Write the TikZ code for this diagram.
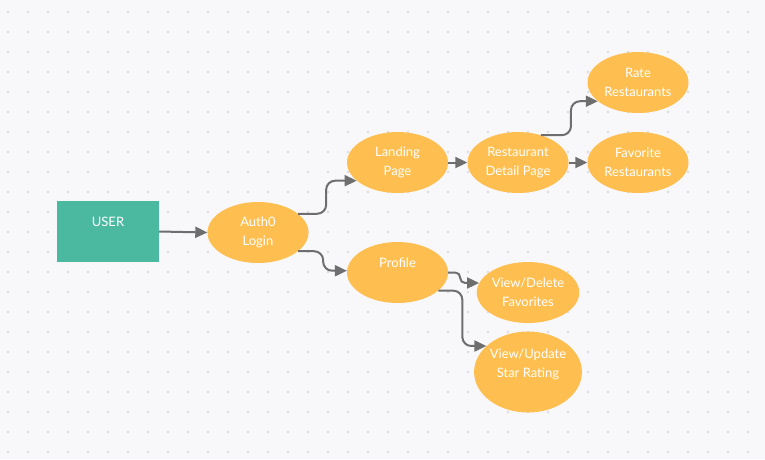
\documentclass[tikz,border=0pt]{standalone}
\usepackage{fontspec}
\setmainfont{Lato}
\usetikzlibrary{arrows.meta,shapes.geometric}

\definecolor{paper}{HTML}{F8F8FA}
\definecolor{griddot}{HTML}{DCDCE0}
\definecolor{teal}{HTML}{4BB9A0}
\definecolor{page}{HTML}{FFBF50}
\definecolor{wire}{HTML}{6E6E6E}

\begin{document}
\begin{tikzpicture}[x=1pt, y=-1pt,
    >={Triangle[length=12pt, width=11pt]},
    screen/.style   = {ellipse, fill=page, text=white, align=center, inner sep=0,
                       minimum width=101pt, minimum height=61pt,
                       font=\fontsize{13pt}{19pt}\selectfont},
    toptext/.style  = {text height=9pt, text depth=19pt},
    actor/.style    = {rectangle, fill=teal, text=white, align=center, inner sep=0,
                       minimum width=102pt, minimum height=61pt,
                       font=\fontsize{13pt}{19pt}\selectfont, toptext},
    link/.style     = {draw=wire, line width=2pt, rounded corners=9pt}]

    % background with dot grid
    \fill[paper] (0,0) rectangle (765,459);
    \useasboundingbox (0,0) rectangle (765,459);
    \foreach \i in {0,...,37}
      \foreach \j in {0,...,22}
        \fill[griddot] (8+20*\i, 12+20*\j) circle (1.3pt);

    \node[actor]                  (user)     at (108,231.5)   {USER};
    \node[screen]                 (auth)     at (258,232.5)   {Auth0\\Login};
    \node[screen]                 (landing)  at (397.5,162.5) {Landing\\Page};
    \node[screen]                 (detail)   at (518,162.5)   {Restaurant\\Detail Page};
    \node[screen]                 (rate)     at (638,82.5)    {Rate\\Restaurants};
    \node[screen]                 (fav)      at (638,162.5)   {Favorite\\Restaurants};
    \node[screen, toptext]        (profile)  at (397.5,272.5) {Profile};
    \node[screen]                 (viewfav)  at (528,292.5)   {View/Delete\\Favorites};
    \node[screen, minimum height=81pt, text height=28pt, text depth=17pt]
                                  (viewrate) at (528,372)     {View/Update\\Star Rating};

    \draw[->, link] (user.east)   -- (auth.west);
    \draw[->, link] (auth.25)     -- ++(28,0) |- (landing.204);
    \draw[->, link] (auth.-25)    -- ++(25,0) |- (profile.178);
    \draw[->, link] (landing.east) -- (detail.west);
    \draw[->, link] (detail.east) -- (fav.west);
    \draw[->, link] (detail.50)   -- ++(30,0) |- (rate.205);
    \draw[->, link, rounded corners=5pt] (profile.east) -- ++(12,0) |- (viewfav.169);
    \draw[->, link] (profile.-24) -- ++(24,0) |- (viewrate.148);
  \end{tikzpicture}
\end{document}
